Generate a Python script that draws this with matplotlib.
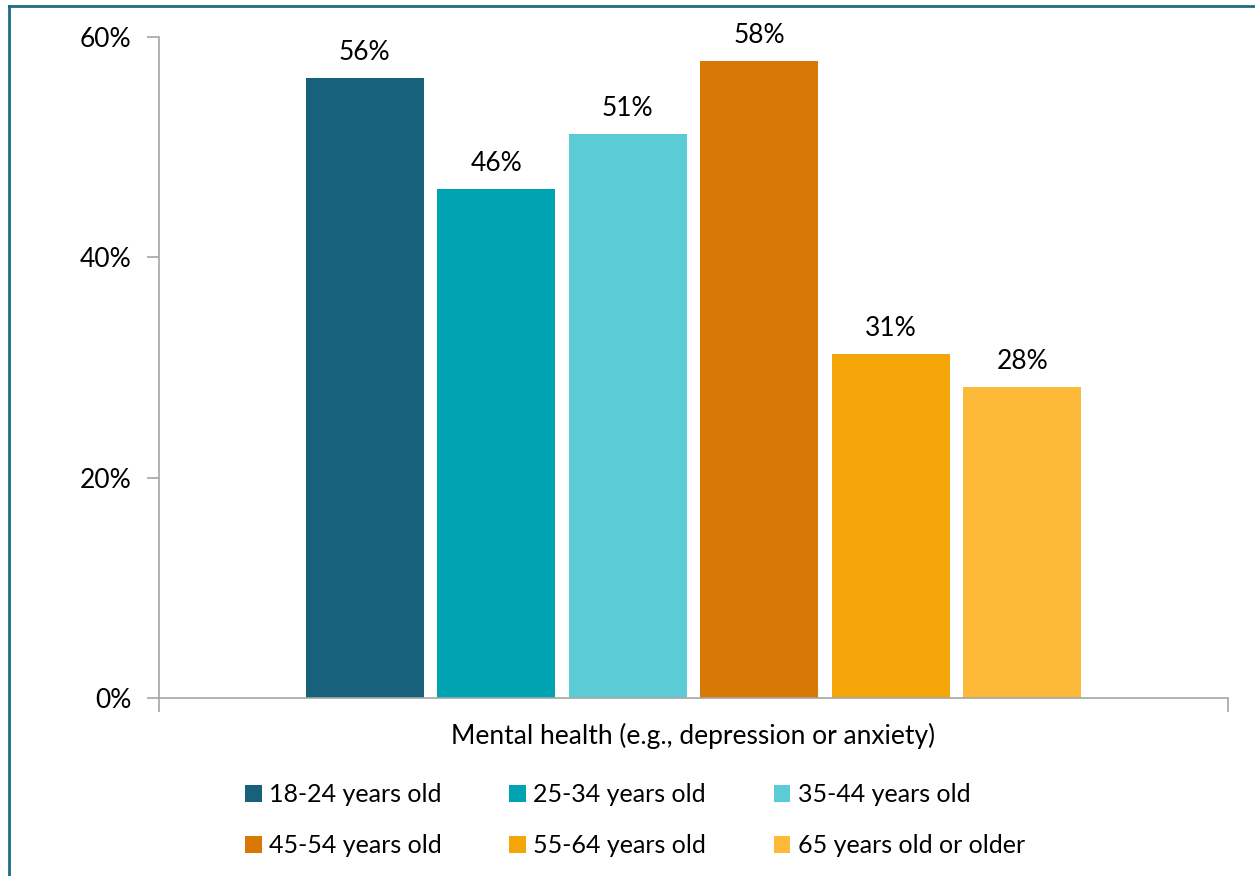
import matplotlib.pyplot as plt
import numpy as np
from matplotlib.lines import Line2D

plt.rcParams['font.family'] = ['Lato', 'DejaVu Sans']

category = 'Mental health (e.g., depression or anxiety)'
age_groups = ['18-24 years old', '25-34 years old', '35-44 years old',
              '45-54 years old', '55-64 years old', '65 years old or older']
shares = [56.3, 46.2, 51.2, 57.8, 31.2, 28.2]
colors = ['#17627A', '#00A3B1', '#5BCCD6', '#D67803', '#F4A508', '#FDBA38']

FS = 19

fig = plt.figure(figsize=(12.55, 8.76), dpi=100)
ax = fig.add_axes([159 / 1255, 1 - 698 / 876, 1069 / 1255, 661 / 876])

step = 0.1231
width = 0.1104
bars = []
for i, (name, val, c) in enumerate(zip(age_groups, shares, colors)):
    x = (i - 2.5) * step
    b = ax.bar(x, val, width=width, color=c, label=name)
    bars.append(b)
    ax.annotate('{:.0f}%'.format(val), (x, val), xytext=(0, 13),
                textcoords='offset points', ha='center', va='baseline',
                fontsize=FS)

ax.set_xlim(-0.5, 0.5)
ax.set_ylim(0, 60)
ax.set_yticks([0, 20, 40, 60])
ax.set_yticklabels(['0%', '20%', '40%', '60%'], fontsize=FS)
ax.set_xticks([-0.5, 0.5])
ax.set_xticklabels([])
ax.set_xticks([0], minor=True)
ax.set_xticklabels([category], minor=True, fontsize=FS)
ax.tick_params(axis='x', which='major', length=10, color='#A6A6A6', width=1.2)
ax.tick_params(axis='x', which='minor', length=0, pad=18)
ax.tick_params(axis='y', length=9, color='#A6A6A6', width=1.2, pad=11)

for s in ['top', 'right']:
    ax.spines[s].set_visible(False)
for s in ['left', 'bottom']:
    ax.spines[s].set_color('#A6A6A6')
    ax.spines[s].set_linewidth(1.2)

# legend laid out row by row
order = [0, 3, 1, 4, 2, 5]
handles = [bars[k] for k in order]
labels = [age_groups[k] for k in order]
fig.legend(handles, labels, ncol=3, loc='upper left',
           bbox_to_anchor=(245 / 1255, 1 - 783 / 876), frameon=False,
           fontsize=18, handlelength=0.66, handleheight=0.66,
           handletextpad=0.3, columnspacing=2.7, labelspacing=1.12,
           borderpad=0, borderaxespad=0)

# outer frame lines
fig.add_artist(Line2D([9 / 1255, 1], [1 - 6 / 876, 1 - 6 / 876],
                      color='#1E6B82', lw=2, transform=fig.transFigure))
fig.add_artist(Line2D([9 / 1255, 9 / 1255], [0, 1 - 6 / 876],
                      color='#1E6B82', lw=2, transform=fig.transFigure))

fig.savefig('out.png', dpi=100)
